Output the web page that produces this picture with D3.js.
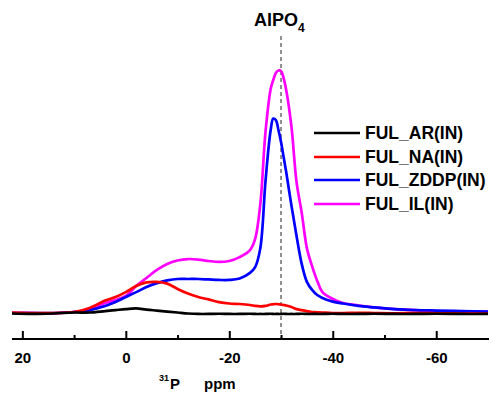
<!DOCTYPE html>
<html>
<head>
<meta charset="utf-8">
<script src="https://cdn.jsdelivr.net/npm/d3@7"></script>
<style>
  html, body { margin: 0; padding: 0; background: #fff; }
  svg { display: block; font-family: "Liberation Sans", Arial, sans-serif; }
</style>
</head>
<body>
<svg id="chart" width="493" height="394"></svg>
<script>
// Chemical shift grid (ppm) shared by all spectra
const ppm = [22, 18, 14, 10, 7, 4, 2, 0, -2, -4, -6, -8, -10, -12, -14, -16, -18, -20, -22, -24, -25, -26, -27, -28, -28.5, -29, -29.5, -30, -30.5, -31, -32, -33, -34, -35, -36, -37, -38, -40, -42, -45, -48, -52, -56, -60, -65, -70];

// 31P NMR intensities (a.u.) of each sample
const fulAR = [-0.2, -0.4, -0.2, 0.2, 0.2, 0.8, 1.2, 1.6, 1.9, 1.4, 1.0, 0.6, 0.2, -0.2, -0.4, -0.4, -0.3, -0.4, -0.4, -0.3, -0.4, -0.4, -0.4, -0.3, -0.4, -0.4, -0.4, -0.4, -0.3, -0.4, -0.4, -0.4, -0.3, -0.4, -0.4, -0.4, -0.4, -0.3, -0.4, -0.4, -0.3, -0.4, -0.4, -0.3, -0.4, -0.4];
const fulNA = [0.2, 0.0, 0.0, 0.4, 2.1, 5.1, 6.6, 8.6, 11.1, 12.6, 12.8, 12.1, 9.9, 8.0, 6.6, 5.6, 4.5, 3.9, 3.7, 3.3, 2.9, 2.7, 2.9, 3.5, 3.6, 3.7, 3.6, 3.5, 3.3, 3.1, 2.5, 1.6, 1.2, 0.8, 0.4, 0.3, 0.2, 0.0, 0.0, 0.1, 0.0, -0.1, 0.0, -0.1, -0.2, -0.2];
const fulZDDP = [0.0, 0.0, 0.0, 0.4, 1.2, 2.9, 4.5, 6.6, 8.6, 10.7, 12.3, 13.4, 14.0, 14.0, 14.0, 13.8, 13.6, 13.6, 14.2, 16.5, 18.9, 26.7, 54.3, 75.3, 80.0, 79.4, 75.3, 70.4, 64.2, 58.0, 44.4, 31.7, 20.2, 12.8, 9.5, 7.4, 6.2, 4.7, 3.9, 2.9, 2.3, 1.6, 1.2, 1.0, 0.8, 0.6];
const fulIL = [0.0, 0.0, -0.2, 0.4, 1.2, 4.1, 5.3, 7.0, 11.1, 14.4, 17.7, 20.2, 21.6, 22.2, 22.0, 21.4, 21.0, 21.4, 23.0, 25.9, 30.5, 44.9, 74.5, 92.2, 95.9, 98.8, 99.8, 99.6, 96.7, 91.8, 77.0, 53.9, 41.2, 26.7, 19.3, 13.2, 8.6, 5.8, 4.1, 3.1, 2.3, 1.6, 1.2, 0.8, 0.6, 0.6];

const seriesNames = ["FUL_AR(IN)", "FUL_NA(IN)", "FUL_ZDDP(IN)", "FUL_IL(IN)"];
const seriesColors = ["#000000", "#ff0000", "#0000ff", "#ff00ff"];
const seriesValues = [fulAR, fulNA, fulZDDP, fulIL];

// Axis ticks
const majorTicks = [20, 0, -20, -40, -60];
const majorLabels = ["20", "0", "-20", "-40", "-60"];
const minorTicks = [10, -10, -30, -50];

// Reference position of AlPO4
const alpo4Shift = -30;

const svg = d3.select("#chart");

const x = d3.scaleLinear().domain([22, -70.2]).range([12, 489]);
const y = d3.scaleLinear().domain([-10.7, 110]).range([339, 45.7]);

// AlPO4 reference marker
svg.append("line")
  .attr("x1", x(alpo4Shift)).attr("x2", x(alpo4Shift))
  .attr("y1", 36).attr("y2", 339)
  .attr("stroke", "#555").attr("stroke-width", 1.3)
  .attr("stroke-dasharray", "4,3");

const title = svg.append("text")
  .attr("x", 254).attr("y", 26)
  .attr("font-size", 18).attr("font-weight", "bold").attr("fill", "#000");
title.append("tspan").text("AlPO");
title.append("tspan").attr("font-size", 12).attr("dy", 6).text("4");

// Spectra (drawn so that IL sits on top)
const line = d3.line()
  .x((d, i) => x(ppm[i]))
  .y(d => y(d))
  .curve(d3.curveCatmullRom.alpha(0.5));

const order = [3, 2, 1, 0];
order.forEach(k => {
  svg.append("path")
    .datum(seriesValues[k])
    .attr("d", line)
    .attr("fill", "none")
    .attr("stroke", seriesColors[k])
    .attr("stroke-width", 2.7)
    .attr("stroke-linejoin", "round");
});

// X axis: major ticks with labels, minor ticks without
const xAxis = d3.axisBottom(x)
  .tickValues(majorTicks)
  .tickFormat((d, i) => majorLabels[i])
  .tickSizeInner(-8).tickSizeOuter(0).tickPadding(13);
const gx = svg.append("g").attr("transform", "translate(0,339)").call(xAxis);
gx.select(".domain").attr("stroke-width", 2).attr("d", "M12,0H489");
gx.selectAll(".tick line").attr("stroke-width", 2);
gx.selectAll(".tick text")
  .attr("font-size", 15).attr("font-weight", "bold")
  .attr("font-family", "Liberation Sans, Arial, sans-serif")
  .attr("fill", "#000");

const xMinor = d3.axisBottom(x).tickValues(minorTicks).tickFormat("")
  .tickSizeInner(-4).tickSizeOuter(0);
const gm = svg.append("g").attr("transform", "translate(0,339)").call(xMinor);
gm.select(".domain").remove();
gm.selectAll(".tick line").attr("stroke-width", 2);

// Axis title: superscript isotope number, nucleus and unit
svg.append("text").attr("x", 159).attr("y", 381)
  .attr("font-size", 9).attr("font-weight", "bold").attr("fill", "#000").text("31");
svg.append("text").attr("x", 170).attr("y", 389)
  .attr("font-size", 15).attr("font-weight", "bold").attr("fill", "#000").text("P");
svg.append("text").attr("x", 204).attr("y", 389)
  .attr("font-size", 15).attr("font-weight", "bold").attr("fill", "#000").text("ppm");

// Legend
const legend = svg.append("g");
const rowY = [133, 157, 180, 204];
seriesNames.forEach((name, i) => {
  legend.append("line")
    .attr("x1", 314).attr("x2", 360)
    .attr("y1", rowY[i]).attr("y2", rowY[i])
    .attr("stroke", seriesColors[i]).attr("stroke-width", 2.7);
  legend.append("text")
    .attr("x", 365).attr("y", rowY[i])
    .attr("dy", "0.36em")
    .attr("font-size", 17.5).attr("font-weight", "bold").attr("fill", "#000")
    .text(name);
});
</script>
</body>
</html>
